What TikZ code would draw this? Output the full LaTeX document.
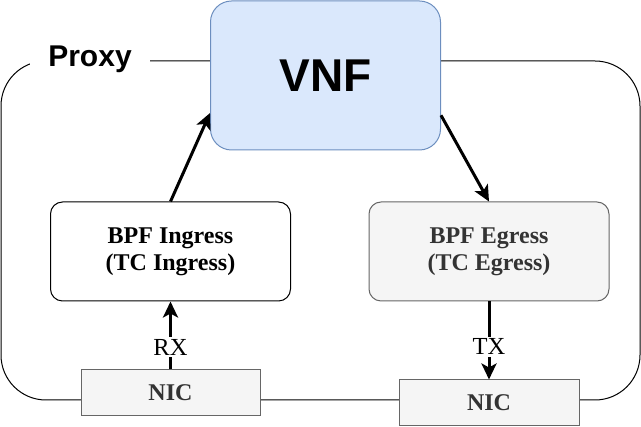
\documentclass[tikz,border=0pt]{standalone}
\usepackage{fontspec}
\setmainfont{Liberation Serif}
\newfontfamily\hvfont{Liberation Sans}
\usetikzlibrary{arrows.meta}
\definecolor{vnffill}{HTML}{DAE8FC}
\definecolor{vnfdraw}{HTML}{6C8EBF}
\definecolor{grayfill}{HTML}{F5F5F5}
\definecolor{graydraw}{HTML}{666666}
\definecolor{graytext}{HTML}{333333}
\tikzset{
  vnfbox/.style={draw=vnfdraw, fill=vnffill, line width=1pt, rounded corners=21pt,
    minimum width=230pt, minimum height=149pt, inner sep=0pt,
    font=\hvfont\bfseries\fontsize{46}{50}\selectfont},
  bpfbox/.style={draw, line width=1pt, rounded corners=12pt, align=center,
    minimum width=240pt, minimum height=99pt, inner sep=0pt,
    font=\bfseries\fontsize{24}{27}\selectfont},
  graybox/.style={draw=graydraw, fill=grayfill, text=graytext},
  nicbox/.style={draw=graydraw, fill=grayfill, text=graytext, line width=1pt,
    minimum height=46pt, inner sep=0pt, font=\bfseries\fontsize{24}{26}\selectfont},
  arr/.style={line width=3pt, -{Stealth[length=16pt,width=15pt,inset=4pt]}},
  lbl/.style={fill=white, inner sep=2pt, font=\fontsize{24.5}{26}\selectfont},
}
\begin{document}
\begin{tikzpicture}[x=1pt,y=-1pt]
\useasboundingbox (0,0) rectangle (641,427);
% proxy container
\draw[line width=1pt, rounded corners=45pt] (1,61) rectangle (640,400);
\node[fill=white, minimum width=120pt, minimum height=36pt, inner sep=0pt,
  font=\hvfont\bfseries\fontsize{30}{32}\selectfont] (proxy) at (90,59.5) {Proxy};
% boxes
\node[vnfbox] (vnf) at (325.5,75.5) {VNF};
\node[bpfbox, fill=white] (ing) at (170.5,251.5) {BPF Ingress\\(TC Ingress)};
\node[bpfbox, graybox] (egr) at (489,251.5) {BPF Egress\\(TC Egress)};
\node[nicbox, minimum width=179pt] (nicl) at (170.5,393) {NIC};
\node[nicbox, minimum width=180pt] (nicr) at (489,403) {NIC};
% connectors
\draw[arr] (ing.north) -- (vnf.198.5);
\draw[arr] (vnf.341.5) -- (egr.north);
\draw[arr] (nicl.north) -- node[lbl, pos=0.33] (rx) {RX} (ing.south);
\draw[arr] (egr.south) -- node[lbl, pos=0.58] (tx) {TX} (nicr.north);
\end{tikzpicture}
\end{document}
